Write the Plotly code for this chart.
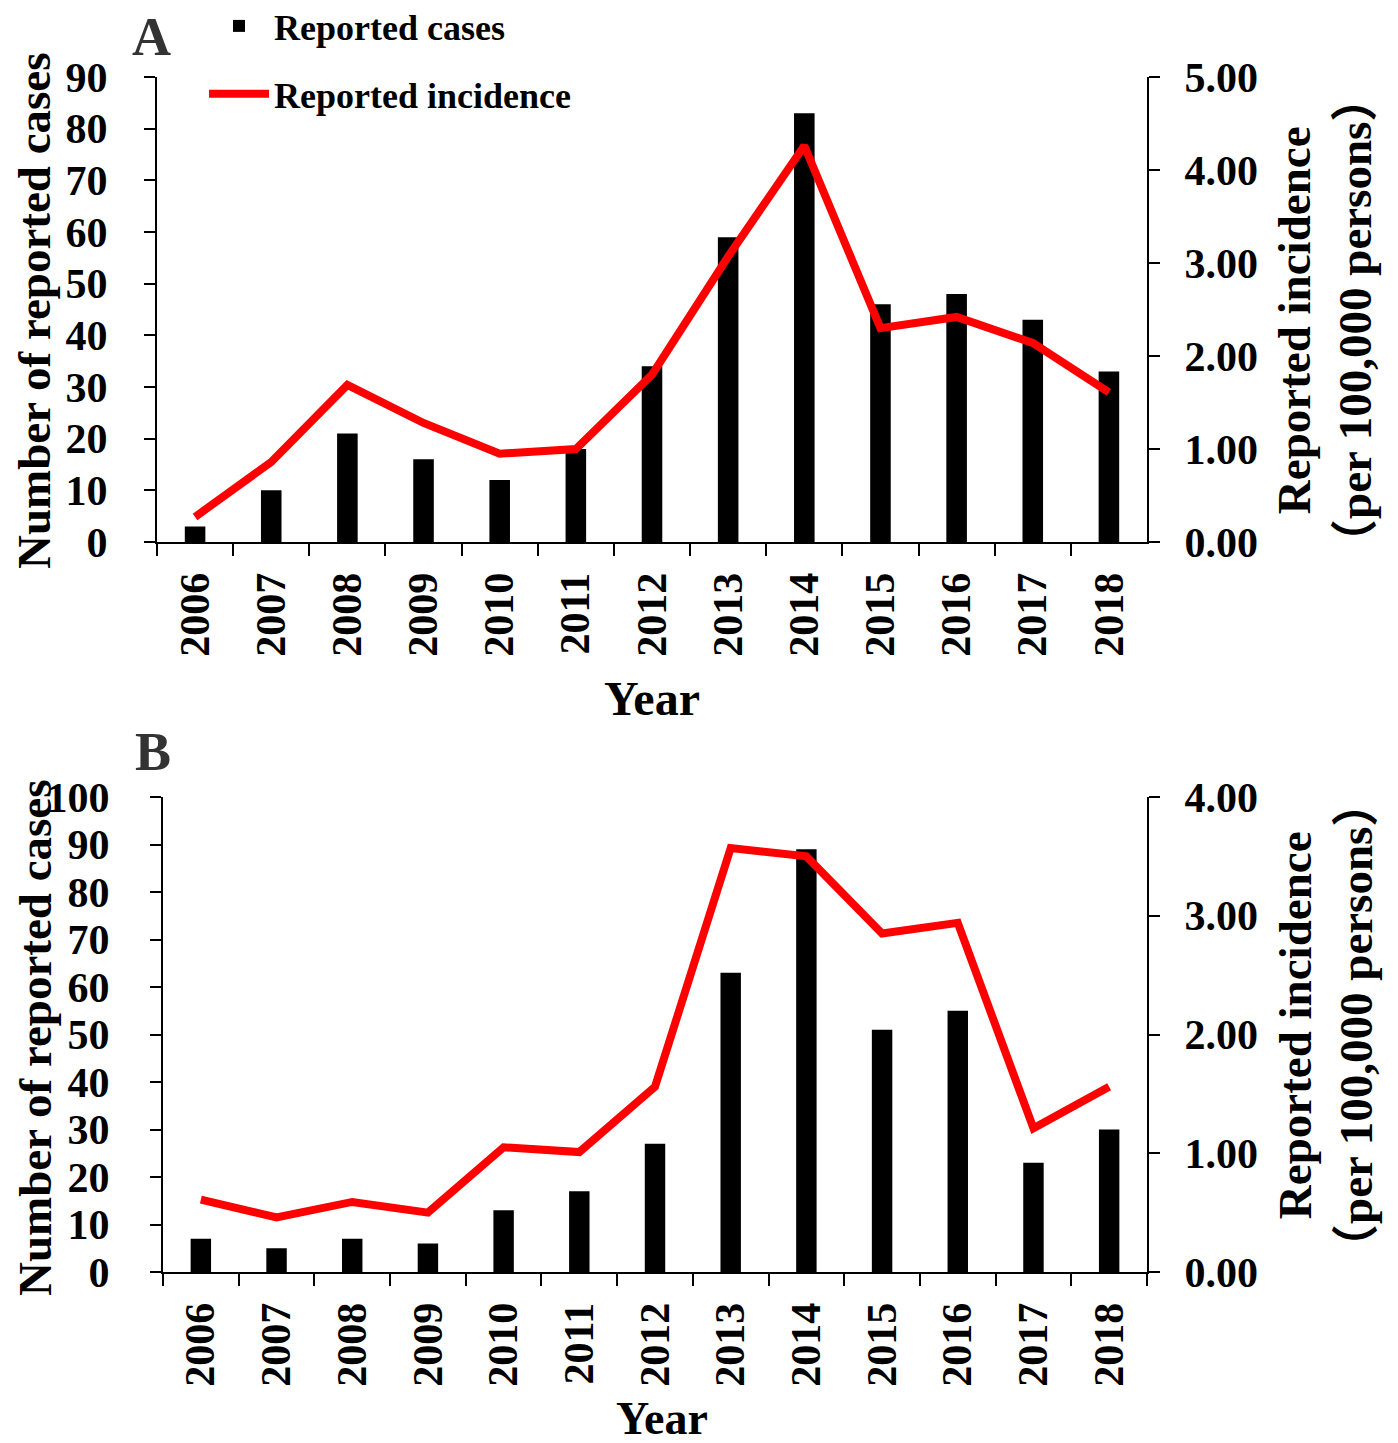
import plotly.graph_objects as go

# page body has an 8px margin, so the figure is drawn 8px smaller and offset
OFF = 8
W, H = 1398 - OFF, 1443 - OFF
FONT = "Liberation Serif, Times New Roman, serif"
CJKSPAN = "<span style=\"font-family:'Noto Sans CJK SC'\">{}</span>"

years = [str(y) for y in range(2006, 2019)]

cases_a = [3, 10, 21, 16, 12, 18, 34, 59, 83, 46, 48, 43, 33]
incid_a = [0.27, 0.86, 1.69, 1.28, 0.95, 1.00, 1.80, 3.07, 4.26, 2.30, 2.42, 2.14, 1.61]

cases_b = [7, 5, 7, 6, 13, 17, 27, 63, 89, 51, 55, 23, 30]
incid_b = [0.61, 0.46, 0.59, 0.50, 1.05, 1.01, 1.56, 3.57, 3.50, 2.85, 2.94, 1.21, 1.56]

left_ticks_a = [0, 10, 20, 30, 40, 50, 60, 70, 80, 90]
right_ticks_a = [0, 1, 2, 3, 4, 5]
left_ticks_b = [0, 10, 20, 30, 40, 50, 60, 70, 80, 90, 100]
right_ticks_b = [0, 1, 2, 3, 4]

def px_x(v):
    return (v - OFF) / W

def px_y(v):
    return 1 - (v - OFF) / H

fig = go.Figure()

fig.add_trace(go.Bar(x=years, y=cases_a, width=0.27, marker=dict(color="black", line=dict(width=0)),
                     name="Reported cases", xaxis="x", yaxis="y", legendgroup="g1"))
fig.add_trace(go.Scatter(x=years, y=incid_a, mode="lines", line=dict(color="#ff0000", width=8),
                         name="Reported incidence", xaxis="x", yaxis="y2", legendgroup="g2"))
fig.add_trace(go.Bar(x=years, y=cases_b, width=0.27, marker=dict(color="black", line=dict(width=0)),
                     name="Reported cases", xaxis="x2", yaxis="y3", showlegend=False))
fig.add_trace(go.Scatter(x=years, y=incid_b, mode="lines", line=dict(color="#ff0000", width=8),
                         name="Reported incidence", xaxis="x2", yaxis="y4", showlegend=False))

tickfont = dict(family=FONT, size=42, color="black", weight="bold")

def xax(domain, anchor):
    return dict(domain=domain, anchor=anchor, type="category", range=[-0.5, 12.5],
                showline=True, linecolor="black", linewidth=2, ticks="outside", tickson="boundaries",
                ticklen=12, tickwidth=2, tickcolor="black", tickangle=-90, tickfont=tickfont,
                ticklabelstandoff=12, showgrid=False, zeroline=False, automargin=False)

def yax(domain, anchor, rng, tv, side, fmt=None, overlay=None, standoff=22):
    d = dict(domain=domain, anchor=anchor, range=rng, tickvals=tv, side=side,
             showline=True, linecolor="black", linewidth=2, ticks="outside", ticklen=11,
             tickwidth=2, tickcolor="black", tickfont=tickfont, showgrid=False, zeroline=False,
             ticklabelstandoff=standoff, automargin=False)
    if fmt:
        d["tickformat"] = fmt
    if overlay:
        d["overlaying"] = overlay
    return d

dom_xa = [px_x(157), px_x(1147)]
dom_ya = [px_y(542), px_y(77)]
dom_xb = [px_x(163), px_x(1147)]
dom_yb = [px_y(1272), px_y(797)]

fig.update_layout(
    width=W, height=H,
    margin=dict(l=0, r=0, t=0, b=0, autoexpand=False),
    paper_bgcolor="white", plot_bgcolor="white",
    xaxis=xax(dom_xa, "y"),
    yaxis=yax(dom_ya, "x", [0, 90], left_ticks_a, "left", standoff=28),
    yaxis2=yax(dom_ya, "x", [0, 5], right_ticks_a, "right", fmt=".2f", overlay="y", standoff=16),
    xaxis2=xax(dom_xb, "y3"),
    yaxis3=yax(dom_yb, "x2", [0, 100], left_ticks_b, "left", standoff=32),
    yaxis4=yax(dom_yb, "x2", [0, 4], right_ticks_b, "right", fmt=".2f", overlay="y3", standoff=16),
    showlegend=True,
    legend=dict(x=px_x(204), y=px_y(-4), xanchor="left", yanchor="top",
                font=dict(family=FONT, size=36, color="black", weight="bold"), itemwidth=60,
                tracegroupgap=18, bgcolor="rgba(0,0,0,0)"),
)

title_font = dict(family=FONT, size=47, color="black")
right_title = "<b>Reported incidence<br>" + CJKSPAN.format("（") + "per 100,000 persons" + CJKSPAN.format("）") + "</b>"
annotations = [
    dict(text="<b>A</b>", x=px_x(151), y=px_y(37), font=dict(family=FONT, size=54, color="#333333")),
    dict(text="<b>B</b>", x=px_x(153), y=px_y(752), font=dict(family=FONT, size=54, color="#333333")),
    dict(text="<b>Number of reported cases</b>", x=px_x(34), y=px_y(311), textangle=-90, font=title_font),
    dict(text="<b>Number of reported cases</b>", x=px_x(35), y=px_y(1038), textangle=-90, font=title_font),
    dict(text=right_title, x=px_x(1327), y=px_y(321), textangle=-90, font=title_font),
    dict(text=right_title, x=px_x(1327), y=px_y(1026), textangle=-90, font=title_font),
    dict(text="<b>Year</b>", x=px_x(652), y=px_y(698), font=dict(family=FONT, size=48, color="black")),
    dict(text="<b>Year</b>", x=px_x(662), y=px_y(1418), font=dict(family=FONT, size=46, color="black")),
]
for a in annotations:
    a.update(xref="paper", yref="paper", showarrow=False, xanchor="center", yanchor="middle")
fig.update_layout(annotations=annotations)

fig.write_html("out.html")
